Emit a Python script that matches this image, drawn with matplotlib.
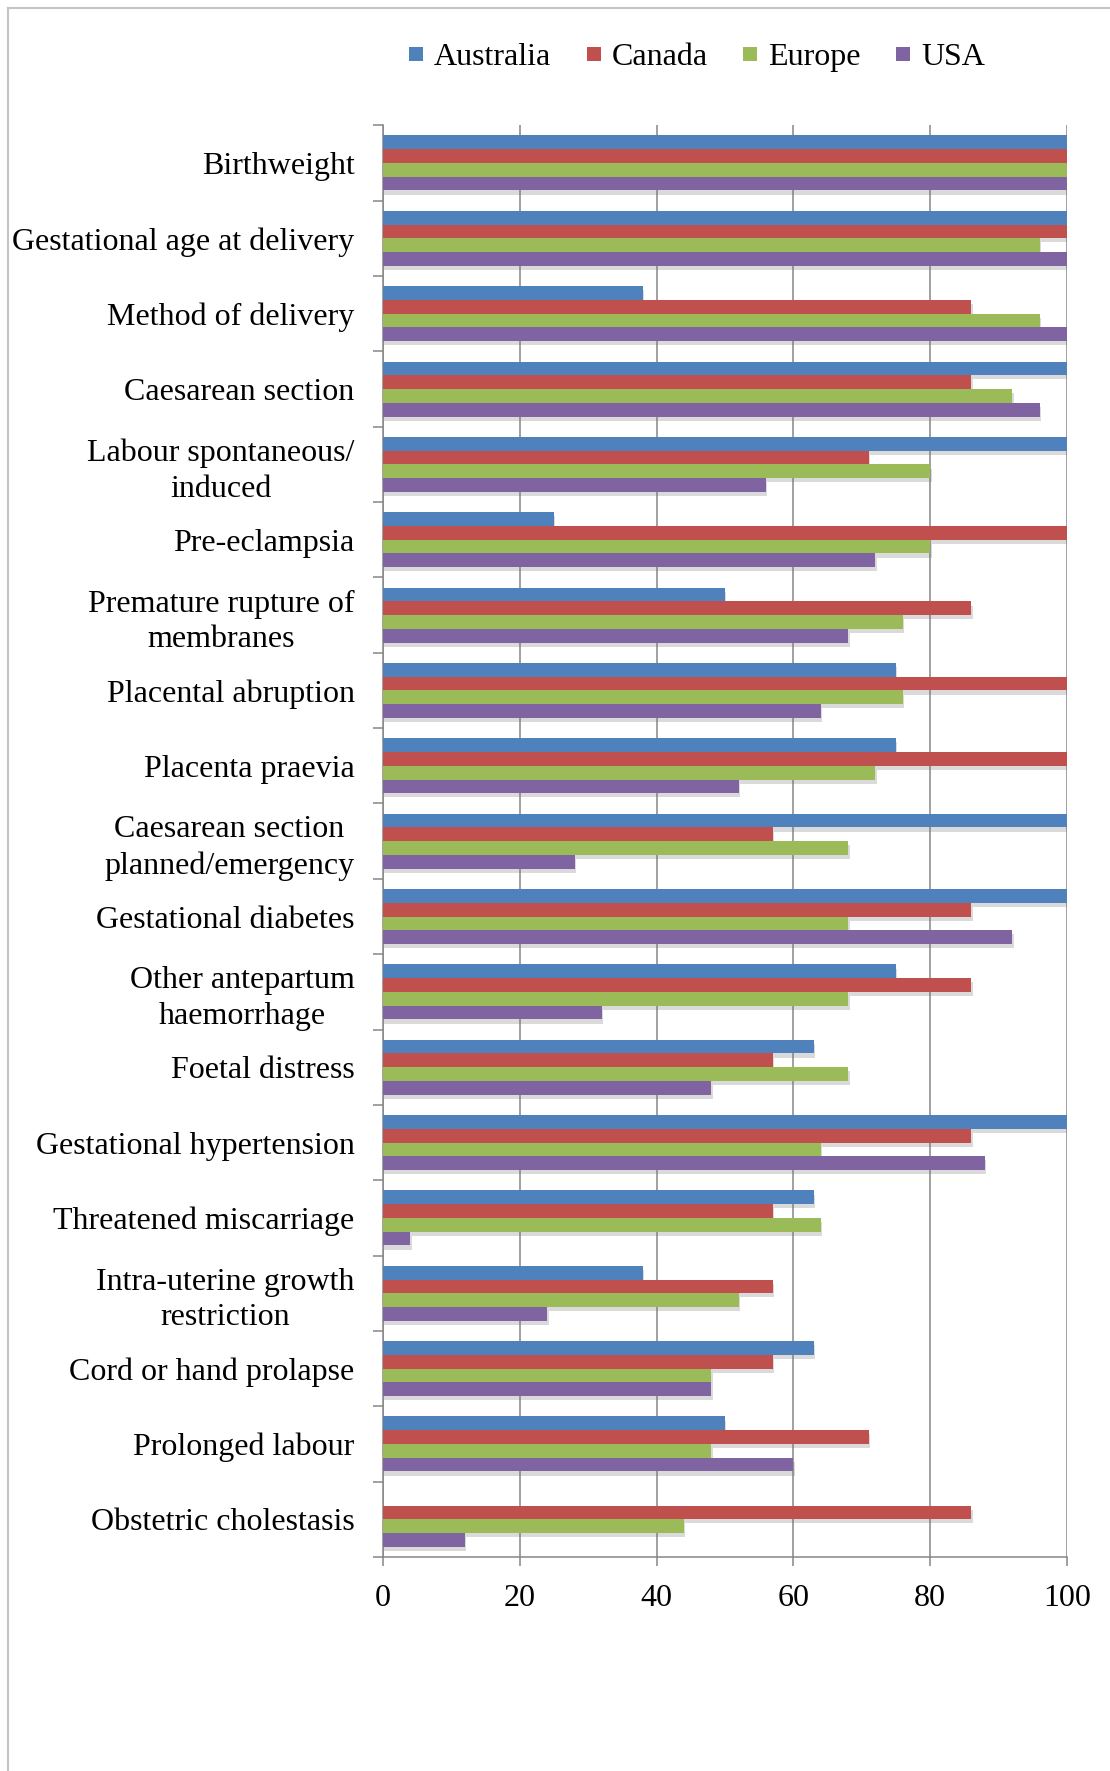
import numpy as np
import matplotlib
matplotlib.use("Agg")
import matplotlib.pyplot as plt
from matplotlib.lines import Line2D
import matplotlib.patheffects as pe

categories = [
    "Birthweight", "Gestational age at delivery", "Method of delivery",
    "Caesarean section", "Labour spontaneous/\ninduced", "Pre-eclampsia",
    "Premature rupture of\nmembranes", "Placental abruption", "Placenta praevia",
    "Caesarean section\nplanned/emergency", "Gestational diabetes",
    "Other antepartum\nhaemorrhage", "Foetal distress", "Gestational hypertension",
    "Threatened miscarriage", "Intra-uterine growth\nrestriction",
    "Cord or hand prolapse", "Prolonged labour", "Obstetric cholestasis",
]
series_names = ["Australia", "Canada", "Europe", "USA"]
australia = [100, 100, 38, 100, 100, 25, 50, 75, 75, 100, 100, 75, 63, 100, 63, 38, 63, 50, 0]
canada    = [100, 100, 86, 86, 71, 100, 86, 100, 100, 57, 86, 86, 57, 86, 57, 57, 57, 71, 86]
europe    = [100, 96, 96, 92, 80, 80, 76, 76, 72, 68, 68, 68, 68, 64, 64, 52, 48, 48, 44]
usa       = [100, 100, 100, 96, 56, 72, 68, 64, 52, 28, 92, 32, 48, 88, 4, 24, 48, 60, 12]
x_ticks = [0, 20, 40, 60, 80, 100]

colors = ["#4F81BD", "#C0504D", "#9BBB59", "#8064A2"]
grey = "#868686"
FS = 23.0
plt.rcParams['font.family'] = ['Liberation Serif', 'DejaVu Serif']

W, H = 1110, 1771
fig = plt.figure(figsize=(W / 100, H / 100), dpi=100)
x0, x1, ytop, ybot = 383, 1067, 125.3, 1557
ax = fig.add_axes([x0 / W, 1 - ybot / H, (x1 - x0) / W, (ybot - ytop) / H])

n = len(categories)
y = np.arange(n)
h = 0.1825
data = [australia, canada, europe, usa]
shadow = [pe.SimplePatchShadow(offset=(1.0, -3.0), shadow_rgbFace='#7a7a7a', alpha=0.28), pe.Normal()]
for j, (vals, c) in enumerate(zip(data, colors)):
    ax.barh(y + (j - 1.5) * h, vals, height=h, color=c, path_effects=shadow, zorder=3)

ax.set_xlim(0, 100)
ax.set_ylim(n - 0.5, -0.5)

ax.set_yticks(y)
ax.set_yticklabels(categories, fontsize=FS)
ax.set_yticks(np.arange(n + 1) - 0.5, minor=True)
ax.tick_params(axis='y', which='major', length=0, pad=20.5)
ax.tick_params(axis='y', which='minor', length=7.5, width=1.1, color=grey, direction='out')
for t in ax.get_yticklabels():
    t.set_multialignment('center')
    t.set_linespacing(1.3)

ax.set_xticks(x_ticks)
ax.set_xticklabels([str(v) for v in x_ticks], fontsize=FS)
ax.tick_params(axis='x', which='major', length=6.5, width=1.1, color=grey, direction='out', pad=13)

ax.xaxis.grid(True, color=grey, linewidth=1.1, zorder=0)
ax.set_axisbelow(True)
for s in ['top', 'right']:
    ax.spines[s].set_visible(False)
for s in ['left', 'bottom']:
    ax.spines[s].set_color(grey)
    ax.spines[s].set_linewidth(1.1)

handles = [Line2D([], [], marker='s', linestyle='none', markersize=10, color=c, markeredgewidth=0)
           for c in colors]
fig.legend(handles, series_names, loc='center', bbox_to_anchor=(697 / W, 1 - 57.5 / H),
           ncol=4, frameon=False, fontsize=FS, handlelength=0.444, handletextpad=0.35,
           columnspacing=1.1, borderpad=0, borderaxespad=0)

frame_c = "#C4C4C4"
fig.add_artist(Line2D([8 / W, 1], [1 - 8 / H, 1 - 8 / H], transform=fig.transFigure, color=frame_c, lw=1.5))
fig.add_artist(Line2D([8 / W, 8 / W], [0, 1 - 8 / H], transform=fig.transFigure, color=frame_c, lw=1.5))

fig.savefig("out.png", dpi=100, facecolor='white')
